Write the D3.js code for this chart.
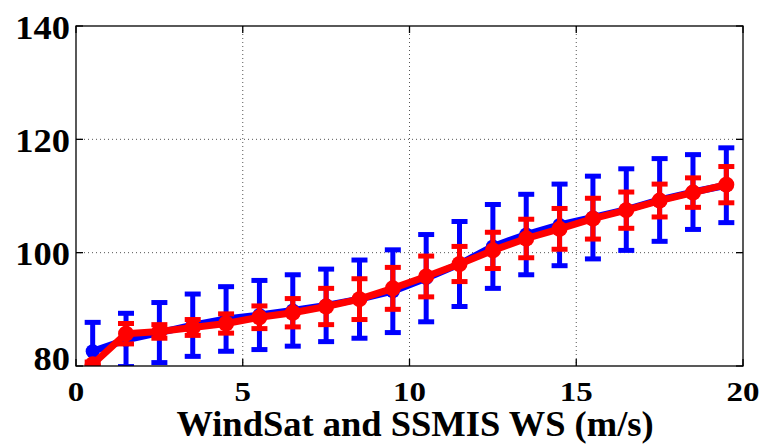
<!DOCTYPE html>
<html>
<head>
<meta charset="utf-8">
<script src="https://cdn.jsdelivr.net/npm/d3@7"></script>
<style>
  html, body { margin: 0; padding: 0; background: #fff; }
  svg { display: block; }
</style>
</head>
<body>
<svg id="chart" width="761" height="446"></svg>
<script>
// Wind speed bin centres (m/s)
const windSpeed = [0.5, 1.5, 2.5, 3.5, 4.5, 5.5, 6.5, 7.5, 8.5, 9.5,
                   10.5, 11.5, 12.5, 13.5, 14.5, 15.5, 16.5, 17.5, 18.5, 19.5];

// Blue series: bin mean and half-width of the error bar
const blueMean = [82.6, 84.6, 85.9, 87.2, 88.3, 89.0, 89.8, 90.7, 91.8, 93.2,
                  95.5, 98.0, 101.1, 103.2, 104.9, 106.2, 107.6, 109.3, 110.7, 111.9];
const blueErr  = [5.1, 4.7, 5.3, 5.5, 5.7, 6.1, 6.3, 6.4, 6.9, 7.3,
                  7.7, 7.5, 7.4, 7.1, 7.2, 7.3, 7.2, 7.3, 6.6, 6.6];

// Red series: bin mean and half-width of the error bar
const redMean = [80.3, 85.7, 86.1, 86.8, 87.5, 88.6, 89.4, 90.5, 91.8, 93.7,
                 95.8, 98.0, 100.4, 102.5, 104.2, 106.0, 107.5, 109.2, 110.6, 112.0];
const redErr  = [0.4, 1.8, 1.2, 1.4, 1.7, 2.0, 2.5, 3.2, 3.6, 3.7,
                 3.6, 3.1, 3.2, 3.4, 3.6, 3.6, 3.2, 2.9, 2.6, 3.2];

const xTicks = [0, 5, 10, 15, 20];
const yTicks = [80, 100, 120, 140];
const xLabel = "WindSat and SSMIS WS (m/s)";

const FONT = "'Liberation Serif', 'Times New Roman', serif";

const svg = d3.select("#chart");
const plotL = 76, plotR = 743, plotT = 26, plotB = 366;

const x = d3.scaleLinear().domain([0, 20]).range([plotL, plotR]);
const y = d3.scaleLinear().domain([80, 140]).range([plotB, plotT]);

// Dotted grid
const grid = svg.append("g").attr("stroke", "#555").attr("stroke-width", 1)
  .attr("stroke-dasharray", "1,3");
grid.selectAll(".gx").data(xTicks.filter(d => d > 0 && d < 20)).join("line")
  .attr("x1", d => x(d)).attr("x2", d => x(d))
  .attr("y1", plotT).attr("y2", plotB);
grid.selectAll(".gy").data(yTicks.filter(d => d > 80 && d < 140)).join("line")
  .attr("x1", plotL).attr("x2", plotR)
  .attr("y1", d => y(d)).attr("y2", d => y(d));

// Clip data marks to the axes box
svg.append("clipPath").attr("id", "plotClip").append("rect")
  .attr("x", plotL).attr("y", plotT).attr("width", plotR - plotL).attr("height", plotB - plotT);
const plot = svg.append("g").attr("clip-path", "url(#plotClip)");

function drawSeries(mean, err, color, lineW, capW, barW, r) {
  const g = plot.append("g");
  const line = d3.line().x((d, i) => x(windSpeed[i])).y(d => y(d));
  g.append("path").datum(mean).attr("d", line)
    .attr("fill", "none").attr("stroke", color).attr("stroke-width", lineW)
    .attr("stroke-linejoin", "round");
  const bars = g.selectAll(".eb").data(mean).join("g");
  bars.append("line")
    .attr("x1", (d, i) => x(windSpeed[i])).attr("x2", (d, i) => x(windSpeed[i]))
    .attr("y1", (d, i) => y(d + err[i])).attr("y2", (d, i) => y(d - err[i]))
    .attr("stroke", color).attr("stroke-width", barW);
  [1, -1].forEach(s => {
    bars.append("line")
      .attr("x1", (d, i) => x(windSpeed[i]) - capW / 2).attr("x2", (d, i) => x(windSpeed[i]) + capW / 2)
      .attr("y1", (d, i) => y(d + s * err[i])).attr("y2", (d, i) => y(d + s * err[i]))
      .attr("stroke", color).attr("stroke-width", barW);
  });
  g.selectAll(".mk").data(mean).join("circle")
    .attr("cx", (d, i) => x(windSpeed[i])).attr("cy", d => y(d))
    .attr("r", r).attr("fill", color);
}

drawSeries(blueMean, blueErr, "#0000ff", 7, 16, 5, 7);
drawSeries(redMean, redErr, "#ff0000", 7, 16, 5, 8);

// Axes box with inward ticks
const frame = svg.append("g").attr("stroke", "#000").attr("stroke-width", 1.3).attr("fill", "none");
frame.append("rect").attr("x", plotL).attr("y", plotT).attr("width", plotR - plotL).attr("height", plotB - plotT);
frame.selectAll(".tx").data(xTicks).join("g").each(function(d) {
  d3.select(this).append("line").attr("x1", x(d)).attr("x2", x(d)).attr("y1", plotB).attr("y2", plotB - 7);
  d3.select(this).append("line").attr("x1", x(d)).attr("x2", x(d)).attr("y1", plotT).attr("y2", plotT + 7);
});
frame.selectAll(".ty").data(yTicks).join("g").each(function(d) {
  d3.select(this).append("line").attr("x1", plotL).attr("x2", plotL + 7).attr("y1", y(d)).attr("y2", y(d));
  d3.select(this).append("line").attr("x1", plotR).attr("x2", plotR - 7).attr("y1", y(d)).attr("y2", y(d));
});

// Y tick labels (slightly compressed vertically, as in the exported figure)
svg.selectAll(".ylab").data(yTicks).join("text")
  .attr("font-family", FONT).attr("font-weight", "bold")
  .attr("font-size", 36.5)
  .attr("text-anchor", "end")
  .attr("transform", d => {
    const cy = d === 80 ? y(d) - 7.5 : y(d) + 1.5;
    return `translate(70, ${cy + 11.3}) scale(1, 0.91)`;
  })
  .text(d => d);

// X tick labels
svg.selectAll(".xlab").data(xTicks).join("text")
  .attr("font-family", FONT).attr("font-weight", "bold")
  .attr("font-size", 33)
  .attr("text-anchor", "middle")
  .attr("transform", d => `translate(${x(d)}, 400.5) scale(1, 0.86)`)
  .text(d => d);

// X axis title
svg.append("text")
  .attr("font-family", FONT).attr("font-weight", "bold")
  .attr("font-size", 36.5)
  .attr("text-anchor", "middle")
  .attr("transform", `translate(415, 436) scale(1, 0.96)`)
  .text(xLabel);
</script>
</body>
</html>
